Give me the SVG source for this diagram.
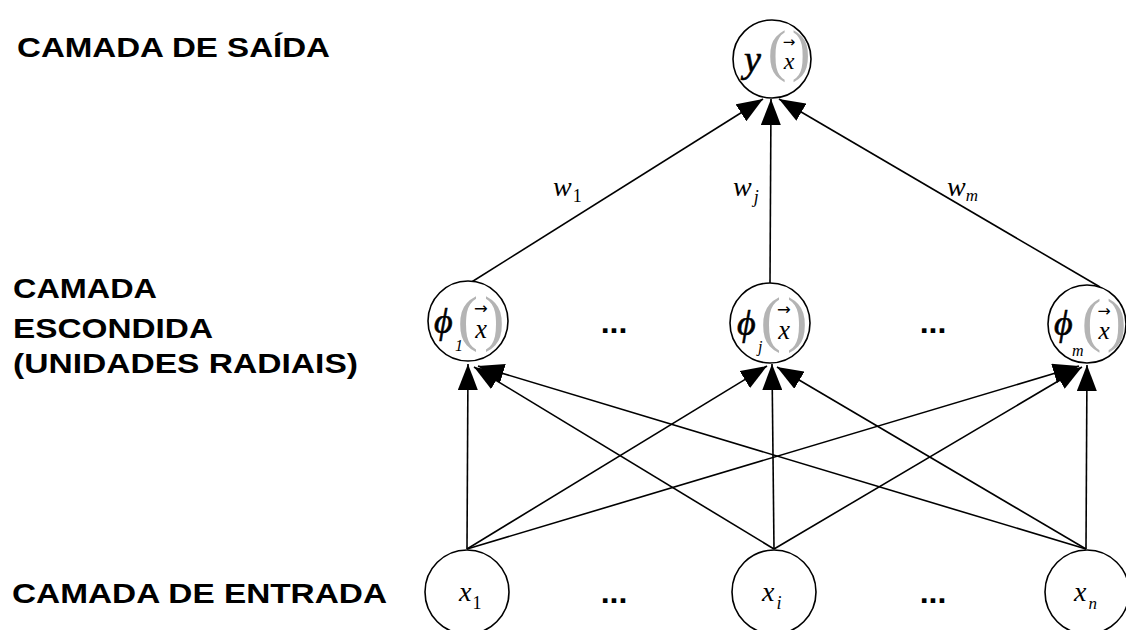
<svg xmlns="http://www.w3.org/2000/svg" width="1126" height="630" viewBox="0 0 1126 630">
<style>
.lbl{font-family:"Liberation Sans",Arial,sans-serif;font-weight:bold;font-size:28px;fill:#000}
.node{fill:#fff;stroke:#000;stroke-width:1.6}
.conn{stroke:#000;stroke-width:1.6;fill:none}
.paren{font-family:"Liberation Serif","DejaVu Serif",serif;font-size:56px;fill:#b4b4b4;text-anchor:middle}
.arr{font-family:"DejaVu Sans",sans-serif;font-size:15px;fill:#000;text-anchor:middle}
.xv{font-family:"Liberation Serif","DejaVu Serif",serif;font-style:italic;font-size:24px;fill:#000;text-anchor:middle}
.m{font-family:"Liberation Serif","DejaVu Serif",serif;font-style:italic;fill:#000}
.up{font-style:normal}
.phi{font-family:"Liberation Serif","DejaVu Serif",serif;font-style:italic;font-size:36px;fill:#000;stroke:#000;stroke-width:0.6}
.dots{font-family:"Liberation Sans",Arial,sans-serif;font-weight:bold;font-size:32px;fill:#000;text-anchor:middle}
</style>
<defs>
<marker id="ah" markerUnits="userSpaceOnUse" markerWidth="26" markerHeight="20" refX="26" refY="10" orient="auto">
<path d="M0,0 L26,10 L0,20 z" fill="#000"/>
</marker>
<g id="vecx">
<text class="paren" x="-12" y="14">(</text>
<text class="paren" x="12" y="14">)</text>
<text class="arr" x="0" y="-9">→</text>
<text class="xv" x="0" y="13">x</text>
</g>
</defs>
<rect width="1126" height="630" fill="#fff"/>

<g id="labels">
<text class="lbl" x="17" y="57" textLength="313" lengthAdjust="spacingAndGlyphs">CAMADA DE SAÍDA</text>
<text class="lbl" x="13" y="298" textLength="144" lengthAdjust="spacingAndGlyphs">CAMADA</text>
<text class="lbl" x="13" y="338" textLength="200" lengthAdjust="spacingAndGlyphs">ESCONDIDA</text>
<text class="lbl" x="13" y="373" textLength="345" lengthAdjust="spacingAndGlyphs">(UNIDADES RADIAIS)</text>
<text class="lbl" x="12" y="603" textLength="375" lengthAdjust="spacingAndGlyphs">CAMADA DE ENTRADA</text>
</g>

<g id="connectors">
<line class="conn" x1="467" y1="549" x2="468" y2="364" marker-end="url(#ah)"/>
<line class="conn" x1="467" y1="549" x2="767" y2="366" marker-end="url(#ah)"/>
<line class="conn" x1="467" y1="549" x2="1079" y2="366" marker-end="url(#ah)"/>
<line class="conn" x1="774" y1="549" x2="474" y2="367" marker-end="url(#ah)"/>
<line class="conn" x1="774" y1="549" x2="772" y2="364" marker-end="url(#ah)"/>
<line class="conn" x1="774" y1="549" x2="1082" y2="367" marker-end="url(#ah)"/>
<line class="conn" x1="1086" y1="549" x2="478" y2="366" marker-end="url(#ah)"/>
<line class="conn" x1="1086" y1="549" x2="777" y2="367" marker-end="url(#ah)"/>
<line class="conn" x1="1086" y1="549" x2="1087" y2="365" marker-end="url(#ah)"/>
<line class="conn" x1="470" y1="283" x2="763" y2="99" marker-end="url(#ah)"/>
<line class="conn" x1="770" y1="283" x2="771" y2="99" marker-end="url(#ah)"/>
<line class="conn" x1="1100" y1="287" x2="779" y2="99" marker-end="url(#ah)"/>
<text class="m" x="553" y="196" font-size="28">w<tspan class="up" font-size="18" dx="1" dy="6">1</tspan></text>
<text class="m" x="733" y="196" font-size="28">w<tspan font-size="18" dx="2" dy="7">j</tspan></text>
<text class="m" x="947" y="196" font-size="28">w<tspan font-size="17" dx="0" dy="5">m</tspan></text>
</g>

<g id="out">
<circle class="node" cx="772" cy="59" r="39"/>
<text class="m" x="744" y="72" font-size="38" stroke="#000" stroke-width="0.6">y</text>
<use href="#vecx" x="789" y="56"/>
</g>

<g id="phi1">
<circle class="node" cx="468" cy="321" r="40"/>
<text class="phi" x="434" y="333">ϕ</text>
<text class="m" x="455" y="351" font-size="16">1</text>
<use href="#vecx" transform="translate(481,324) scale(1.1)"/>
</g>
<g id="phij">
<circle class="node" cx="770" cy="323" r="40"/>
<text class="phi" x="737" y="335">ϕ</text>
<text class="m" x="758" y="352" font-size="16">j</text>
<use href="#vecx" transform="translate(784,325) scale(1.1)"/>
</g>
<g id="phim">
<circle class="node" cx="1087" cy="324" r="39"/>
<text class="phi" x="1054" y="335">ϕ</text>
<text class="m" x="1072" y="356" font-size="16">m</text>
<use href="#vecx" transform="translate(1104,325) scale(1.05)"/>
</g>

<g id="x1">
<circle class="node" cx="467" cy="592" r="42"/>
<text class="m" x="459" y="601" font-size="28">x<tspan class="up" font-size="18" dx="1" dy="8">1</tspan></text>
</g>
<g id="xi">
<circle class="node" cx="774" cy="592" r="42"/>
<text class="m" x="762" y="601" font-size="28">x<tspan font-size="18" dx="2" dy="8">i</tspan></text>
</g>
<g id="xn">
<circle class="node" cx="1087" cy="592" r="42"/>
<text class="m" x="1074" y="601" font-size="28">x<tspan font-size="17" dx="2" dy="8">n</tspan></text>
</g>

<g id="ellipses">
<text class="dots" x="614" y="333">...</text>
<text class="dots" x="933" y="333">...</text>
<text class="dots" x="614" y="603">...</text>
<text class="dots" x="933" y="603">...</text>
</g>
</svg>
